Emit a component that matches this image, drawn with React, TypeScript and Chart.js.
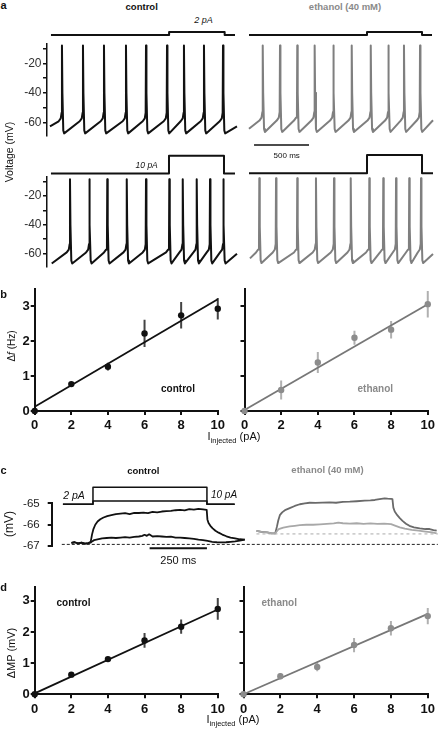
import React, { useEffect, useRef } from "react";
import { Chart, registerables } from "chart.js";
Chart.register(...registerables);

const FONT = "'Liberation Sans', Arial, Helvetica, sans-serif";
Chart.defaults.font.family = FONT;

// ================= DATA =================
// Panel a: spike times (ms from trace origin)
const spikesCtrl2pA = [136, 327, 518, 718, 900, 1091, 1245, 1427, 1600];
const spikesEth2pA = [143, 300, 457, 615, 785, 952, 1125, 1285, 1427, 1573];
const spikesCtrl10pA = [209, 385, 548, 725, 900, 1112, 1234, 1361, 1482, 1603];
const spikesEth10pA = [112, 264, 457, 627, 791, 943, 1112, 1239, 1355, 1475, 1582];
// trace shape: [tStart, vStart, tEnd, vEnd, peak, AHP, threshold] (ms, mV)
const shapeCtrl2pA = [27, -62.7, 1727, -62.7, -8, -67.5, -56.5];
const shapeEth2pA = [18, -64.3, 1691, -58.6, -8, -66.5, -56];
const shapeCtrl10pA = [43, -67, 1727, -60.2, -8.2, -67, -56.5];
const shapeEth10pA = [27, -61.8, 1691, -58.8, -7.5, -65, -55];
// Command steps (ms, pA)
const cmdCtrl2pATimes = [36, 1110, 1110, 1615, 1615, 1709];
const cmdEth2pATimes = [18, 1091, 1091, 1591, 1591, 1682];
const cmdCtrl10pATimes = [36, 1109, 1109, 1609, 1609, 1709];
const cmdEth10pATimes = [18, 1091, 1091, 1591, 1591, 1691];
const cmd2pAValues = [0, 0, 2, 2, 0, 0];
const cmd10pAValues = [0, 0, 10, 10, 0, 0];
const aVoltTicks = [-60, -50, -40, -30, -20, -10];
const aVoltLabelled = [-20, -40, -60];
const aScaleBarMs = [64, 564];

// Panel b / d
const currents = [0, 2, 4, 6, 8, 10];
const dfControl = [0, 0.77, 1.27, 2.22, 2.74, 2.93];
const dfControlErr = [0, 0.05, 0.11, 0.39, 0.38, 0.31];
const dfEthanol = [0, 0.6, 1.39, 2.1, 2.33, 3.06];
const dfEthanolErr = [0, 0.27, 0.3, 0.2, 0.25, 0.38];
const dfControlFit = [0.12, 3.2];
const dfEthanolFit = [0.03, 3.06];
const mpControl = [0, 0.63, 1.13, 1.73, 2.17, 2.74];
const mpControlErr = [0, 0.04, 0.07, 0.24, 0.23, 0.35];
const mpEthanol = [0, 0.58, 0.88, 1.58, 2.12, 2.51];
const mpEthanolErr = [0, 0.1, 0.14, 0.23, 0.23, 0.26];
const mpControlFit = [0.03, 2.72];
const mpEthanolFit = [0.0, 2.58];
const doseYTicks = [0, 1, 2, 3];
const doseXTicks = [0, 2, 4, 6, 8, 10];

// Panel c: membrane potential traces (ms, mV)
const cCtrlUpT = [86, 100, 115, 130, 145, 160, 170, 176, 182, 190, 200, 212, 226, 242, 260, 280, 300, 320, 340, 360, 380, 400, 420, 440, 460, 480, 500, 520, 540, 560, 580, 600, 620, 640, 660, 676, 679, 684, 692, 702, 714, 728, 744, 762, 780, 800, 820, 842];
const cCtrlUpV = [-66.85, -66.82, -66.87, -66.84, -66.88, -66.86, -66.8, -66.45, -66.2, -66.0, -65.85, -65.74, -65.66, -65.6, -65.55, -65.5, -65.48, -65.46, -65.5, -65.44, -65.45, -65.43, -65.46, -65.4, -65.42, -65.38, -65.36, -65.35, -65.32, -65.3, -65.33, -65.27, -65.29, -65.26, -65.28, -65.3, -65.75, -65.92, -66.05, -66.17, -66.28, -66.37, -66.46, -66.54, -66.6, -66.64, -66.68, -66.7];
const cCtrlLoT = [86, 100, 115, 130, 145, 160, 170, 176, 185, 200, 220, 240, 260, 280, 300, 320, 340, 360, 380, 395, 405, 415, 425, 440, 460, 480, 500, 520, 540, 560, 580, 600, 620, 640, 660, 680, 700, 720, 740, 760, 780, 800, 820, 842];
const cCtrlLoV = [-66.85, -66.82, -66.87, -66.84, -66.88, -66.86, -66.84, -66.78, -66.72, -66.68, -66.64, -66.62, -66.6, -66.62, -66.6, -66.58, -66.6, -66.57, -66.55, -66.52, -66.47, -66.52, -66.45, -66.55, -66.53, -66.55, -66.57, -66.56, -66.6, -66.6, -66.62, -66.64, -66.66, -66.7, -66.72, -66.76, -66.8, -66.82, -66.83, -66.82, -66.8, -66.78, -66.74, -66.7];
const cEthUpT = [893, 915, 940, 960, 975, 982, 988, 995, 1005, 1020, 1038, 1060, 1082, 1104, 1125, 1150, 1180, 1212, 1240, 1270, 1300, 1330, 1365, 1390, 1409, 1430, 1452, 1465, 1480, 1486, 1490, 1496, 1507, 1518, 1530, 1545, 1560, 1580, 1605, 1630, 1648, 1665, 1679];
const cEthUpV = [-66.29, -66.33, -66.36, -66.4, -66.4, -66.1, -65.8, -65.55, -65.42, -65.3, -65.22, -65.12, -65.04, -65.0, -64.97, -64.98, -64.96, -64.95, -64.97, -64.93, -64.92, -64.9, -64.87, -64.86, -64.84, -64.8, -64.76, -64.78, -64.79, -64.8, -65.2, -65.38, -65.55, -65.69, -65.82, -65.95, -66.05, -66.12, -66.17, -66.2, -66.2, -66.25, -66.28];
const cEthLoT = [893, 915, 940, 960, 975, 990, 1010, 1038, 1060, 1082, 1110, 1140, 1170, 1200, 1230, 1250, 1270, 1300, 1330, 1360, 1390, 1420, 1450, 1480, 1500, 1518, 1540, 1570, 1600, 1630, 1660, 1679];
const cEthLoV = [-66.29, -66.33, -66.36, -66.4, -66.4, -66.2, -66.13, -66.08, -66.05, -66.02, -66.0, -66.0, -65.98, -65.96, -65.94, -65.9, -65.93, -65.95, -65.93, -65.96, -65.94, -65.96, -65.95, -65.97, -66.05, -66.12, -66.18, -66.24, -66.28, -66.32, -66.36, -66.4];
const cCmdTimes = [49, 180, 180, 677, 677, 798];
const cBaselineCtrl = [44, 1684, -66.92];
const cBaselineEth = [893, 1684, -66.43];
const cScaleBarMs = [427, 677];
const cVoltTicks = [-67, -66, -65];

// ================= LAYOUT =================
const PX_PER_MS_A = 0.11;
const PX_PER_MS_C = 0.2293;

type Box = { x: number; y: number; w: number; h: number };
type Area = { l: number; r: number; t: number; b: number };

function pts(xs: number[], ys: number[]) {
  return xs.map((x, i) => ({ x, y: ys[i] }));
}

function spikeTrace(spikes: number[], s: number[]) {
  const [t0, v0, t1, v1, peak, ahp, thr] = s;
  const out: { x: number; y: number }[] = [{ x: t0, y: v0 }];
  for (const t of spikes) {
    out.push(
      { x: t - 30, y: thr - 2.8 },
      { x: t - 11, y: thr - 0.8 },
      { x: t - 3, y: thr + 3 },
      { x: t, y: peak },
      { x: t + 4, y: -40 },
      { x: t + 12, y: ahp + 2 },
      { x: t + 20, y: ahp }
    );
  }
  out.push({ x: t1, y: v1 });
  return out;
}

function errorBars(xs: number[], ys: number[], es: number[]) {
  const out: { x: number; y: number | null }[] = [];
  xs.forEach((x, i) => {
    if (es[i] > 0) {
      out.push({ x, y: ys[i] - es[i] }, { x, y: ys[i] + es[i] }, { x, y: null });
    }
  });
  return out;
}

function cmdRange(area: Area, zeroPx: number, pxPerPA: number) {
  const h = area.b - area.t;
  const min = -(area.b - zeroPx) / pxPerPA;
  return { min, max: min + h / pxPerPA };
}

function baseOptions(box: Box, area: Area, yW: number, xH: number, scales: any) {
  return {
    responsive: false,
    animation: false,
    events: [],
    layout: {
      autoPadding: false,
      padding: {
        left: area.l - box.x - yW,
        right: box.x + box.w - area.r,
        top: area.t - box.y,
        bottom: box.y + box.h - area.b - xH,
      },
    },
    plugins: { legend: { display: false }, tooltip: { enabled: false }, title: { display: false } },
    elements: { line: { tension: 0, borderJoinStyle: "round" }, point: { radius: 0 } },
    scales,
  };
}

function yAxis(o: {
  min: number; max: number; ticks: number[]; labels?: (v: number) => string;
  width: number; size: number; bold?: boolean; tickLen: number; pad: number; lw: number; color?: string;
}) {
  return {
    type: "linear",
    position: "left",
    min: o.min,
    max: o.max,
    afterBuildTicks: (s: any) => { s.ticks = o.ticks.map((v) => ({ value: v })); },
    afterFit: (s: any) => { s.width = o.width; },
    grid: { drawOnChartArea: false, drawTicks: true, tickLength: o.tickLen, color: "#111", lineWidth: o.lw },
    border: { display: true, color: "#111", width: o.lw },
    ticks: {
      callback: (v: any) => (o.labels ? o.labels(Number(v)) : ""),
      padding: o.pad,
      color: o.color || "#222",
      font: { size: o.size, weight: o.bold ? "bold" : "normal" },
    },
  };
}

function xAxisDose(height: number) {
  return {
    type: "linear",
    position: "bottom",
    min: 0,
    max: 10,
    afterBuildTicks: (s: any) => { s.ticks = doseXTicks.map((v) => ({ value: v })); },
    afterFit: (s: any) => { s.height = height; },
    grid: { drawOnChartArea: false, drawTicks: true, tickLength: 4, color: "#111", lineWidth: 2 },
    border: { display: true, color: "#111", width: 2 },
    ticks: { padding: 3, autoSkip: false, maxRotation: 0, color: "#111", font: { size: 13, weight: "bold" } },
  };
}

type Spec = { key: string; box: Box; build: () => any };

function traceSpec(key: string, box: Box, area: Area, showY: boolean, spikes: number[], shape: number[],
  cmdT: number[], cmdV: number[], cmdZeroPx: number, pxPerPA: number, color: string, extra: any[] = []): Spec {
  return {
    key, box,
    build: () => {
      const yW = showY ? area.l - box.x : 0;
      const scales: any = {
        x: { type: "linear", display: false, min: 0, max: (area.r - area.l) / PX_PER_MS_A },
        y: showY
          ? yAxis({ min: -69, max: -6.5, ticks: aVoltTicks, labels: (v) => (aVoltLabelled.includes(v) ? String(v) : ""), width: yW, size: 12, tickLen: 4, pad: 1.5, lw: 1.5, color: "#333" })
          : { type: "linear", display: false, min: -69, max: -6.5 },
        yc: { type: "linear", display: false, ...cmdRange(area, cmdZeroPx, pxPerPA) },
      };
      return {
        type: "line",
        data: {
          datasets: [
            { data: spikeTrace(spikes, shape), borderColor: color, borderWidth: 2, pointRadius: 0, clip: false, yAxisID: "y" },
            { data: pts(cmdT, cmdV), borderColor: "#111", borderWidth: 2, pointRadius: 0, clip: false, yAxisID: "yc" },
            ...extra,
          ],
        },
        options: baseOptions(box, area, yW, 0, scales),
      };
    },
  };
}

function doseSpec(key: string, box: Box, area: Area, xH: number, yLabels: boolean, ymax: number,
  mean: number[], err: number[], fit: number[], markColor: string, lineColor: string, errColor: string): Spec {
  return {
    key, box,
    build: () => {
      const yW = area.l - box.x;
      const scales: any = {
        x: xAxisDose(xH),
        y: yAxis({ min: 0, max: ymax, ticks: doseYTicks, labels: yLabels ? (v) => String(v) : undefined, width: yW, size: 13, bold: true, tickLen: 4, pad: 1, lw: 2, color: "#111" }),
      };
      return {
        type: "line",
        data: {
          datasets: [
            { data: pts(currents, mean), showLine: false, pointRadius: 3.2, pointBackgroundColor: markColor, pointBorderWidth: 0, clip: false, order: 0 },
            { data: [{ x: 0, y: fit[0] }, { x: 10, y: fit[1] }], borderColor: lineColor, borderWidth: 1.8, pointRadius: 0, clip: false, order: 1 },
            { data: errorBars(currents, mean, err), borderColor: errColor, borderWidth: 2, pointRadius: 0, clip: false, order: 2 },
          ],
        },
        options: baseOptions(box, area, yW, xH, scales),
      };
    },
  };
}

const areaTL: Area = { l: 47, r: 240, t: 43.4, b: 135.6 };
const areaTR: Area = { l: 247, r: 438, t: 43.4, b: 135.6 };
const areaBL: Area = { l: 47, r: 240, t: 176.8, b: 269.0 };
const areaBR: Area = { l: 247, r: 438, t: 176.8, b: 269.0 };

const GRAY_TRACE = "#7f7f7f";

const specs: Spec[] = [
  traceSpec("aTL", { x: 0, y: 25, w: 242, h: 125 }, areaTL, true, spikesCtrl2pA, shapeCtrl2pA, cmdCtrl2pATimes, cmd2pAValues, 35, 1.5, "#111"),
  traceSpec("aTR", { x: 242, y: 25, w: 196, h: 125 }, areaTR, false, spikesEth2pA, shapeEth2pA, cmdEth2pATimes, cmd2pAValues, 35, 1.5, GRAY_TRACE, [
    { data: [{ x: aScaleBarMs[0], y: -75.4 }, { x: aScaleBarMs[1], y: -75.4 }], borderColor: "#111", borderWidth: 1.5, pointRadius: 0, clip: false, yAxisID: "y" },
  ]),
  traceSpec("aBL", { x: 0, y: 150, w: 242, h: 125 }, areaBL, true, spikesCtrl10pA, shapeCtrl10pA, cmdCtrl10pATimes, cmd10pAValues, 173.3, 1.83, "#111"),
  traceSpec("aBR", { x: 242, y: 150, w: 196, h: 125 }, areaBR, false, spikesEth10pA, shapeEth10pA, cmdEth10pATimes, cmd10pAValues, 173.3, 1.83, GRAY_TRACE),
  doseSpec("bL", { x: 0, y: 280, w: 228, h: 155 }, { l: 34.7, r: 218.7, t: 288.15, b: 411 }, 24, true, 3.5, dfControl, dfControlErr, dfControlFit, "#111", "#111", "#444"),
  doseSpec("bR", { x: 228, y: 280, w: 210, h: 155 }, { l: 244.5, r: 429.3, t: 288.15, b: 411 }, 24, false, 3.5, dfEthanol, dfEthanolErr, dfEthanolFit, "#8c8c8c", "#777", "#b0b0b0"),
  doseSpec("dL", { x: 0, y: 578, w: 228, h: 140 }, { l: 34.7, r: 220, t: 582.8, b: 694.3 }, 23.7, true, 3.45, mpControl, mpControlErr, mpControlFit, "#111", "#111", "#444"),
  doseSpec("dR", { x: 228, y: 578, w: 210, h: 140 }, { l: 243.5, r: 428.3, t: 582.8, b: 694.3 }, 23.7, false, 3.45, mpEthanol, mpEthanolErr, mpEthanolFit, "#8c8c8c", "#777", "#b0b0b0"),
  {
    key: "c",
    box: { x: 0, y: 455, w: 438, h: 120 },
    build: () => {
      const box = { x: 0, y: 455, w: 438, h: 120 };
      const area = { l: 51.7, r: 438, t: 503.4, b: 546.1 };
      const yW = area.l - box.x;
      const scales: any = {
        x: { type: "linear", display: false, min: 0, max: (area.r - area.l) / PX_PER_MS_C },
        y: yAxis({ min: -67, max: -65, ticks: cVoltTicks, labels: (v) => String(v), width: yW, size: 11.5, tickLen: 4, pad: 8, lw: 2, color: "#222" }),
        yc: { type: "linear", display: false, ...cmdRange(area, 504.3, 1.7) },
      };
      const ds = (data: any, color: string, width: number, extra: any = {}) => ({ data, borderColor: color, borderWidth: width, pointRadius: 0, clip: false, ...extra });
      return {
        type: "line",
        data: {
          datasets: [
            ds(pts(cCmdTimes, cmd2pAValues), "#111", 1.5, { yAxisID: "yc" }),
            ds(pts(cCmdTimes, cmd10pAValues), "#111", 1.5, { yAxisID: "yc" }),
            ds([{ x: cBaselineCtrl[0], y: cBaselineCtrl[2] }, { x: cBaselineCtrl[1], y: cBaselineCtrl[2] }], "#222", 1, { borderDash: [3, 2] }),
            ds([{ x: cBaselineEth[0], y: cBaselineEth[2] }, { x: cBaselineEth[1], y: cBaselineEth[2] }], "#aaa", 1, { borderDash: [3, 3] }),
            ds(pts(cCtrlLoT, cCtrlLoV), "#111", 1.8),
            ds(pts(cCtrlUpT, cCtrlUpV), "#111", 1.8),
            ds(pts(cEthLoT, cEthLoV), "#a8a8a8", 1.8),
            ds(pts(cEthUpT, cEthUpV), "#6a6a6a", 1.8),
            ds([{ x: cScaleBarMs[0], y: -67.1 }, { x: cScaleBarMs[1], y: -67.1 }], "#111", 2),
          ],
        },
        options: baseOptions(box, area, yW, 0, scales),
      };
    },
  },
];

function ChartBox({ spec }: { spec: Spec }) {
  const ref = useRef<HTMLCanvasElement>(null);
  useEffect(() => {
    const chart = new Chart(ref.current as HTMLCanvasElement, spec.build());
    return () => chart.destroy();
  }, [spec]);
  const { x, y, w, h } = spec.box;
  return <canvas ref={ref} width={w} height={h} style={{ position: "absolute", left: x, top: y, width: w, height: h }} />;
}

function Label(p: { x: number; y: number; size: number; bold?: boolean; italic?: boolean; color?: string; rotate?: boolean; children: React.ReactNode }) {
  return (
    <div
      style={{
        position: "absolute", left: p.x, top: p.y,
        transform: `translate(-50%,-50%)${p.rotate ? " rotate(-90deg)" : ""}`,
        fontFamily: FONT, fontSize: p.size, fontWeight: p.bold ? "bold" : "normal",
        fontStyle: p.italic ? "italic" : "normal", color: p.color || "#111",
        whiteSpace: "nowrap", lineHeight: 1,
      }}
    >
      {p.children}
    </div>
  );
}

const ETH_TEXT = "#8a8a8a";

function IInjected({ x, y }: { x: number; y: number }) {
  return (
    <Label x={x} y={y} size={11}>
      I<span style={{ fontSize: 7.5, position: "relative", top: 3 }}>injected</span> (pA)
    </Label>
  );
}

export default function App() {
  return (
    <div style={{ position: "absolute", left: 0, top: 0, width: 438, height: 733, background: "#fff", overflow: "hidden" }}>
      {specs.map((s) => <ChartBox key={s.key} spec={s} />)}
      <Label x={3.5} y={4.5} size={11} bold>a</Label>
      <Label x={141.7} y={6.5} size={9.5} bold>control</Label>
      <Label x={345} y={6.7} size={9.5} bold color={ETH_TEXT}>ethanol (40 mM)</Label>
      <Label x={203.5} y={20} size={9} italic>2 pA</Label>
      <Label x={146.7} y={165} size={8.5} italic>10 pA</Label>
      <Label x={286.7} y={156} size={8}>500 ms</Label>
      <Label x={9} y={152} size={10.5} rotate>Voltage (mV)</Label>

      <Label x={3.5} y={293.5} size={11} bold>b</Label>
      <Label x={11.7} y={346} size={10} rotate>Δ<i>f</i> (Hz)</Label>
      <Label x={178} y={388.5} size={10} bold>control</Label>
      <Label x={375.3} y={388.5} size={10} bold color={ETH_TEXT}>ethanol</Label>
      <IInjected x={234} y={436} />

      <Label x={3.5} y={470} size={11} bold>c</Label>
      <Label x={143.3} y={471} size={9.5} bold>control</Label>
      <Label x={327.5} y={470} size={9.5} bold color={ETH_TEXT}>ethanol (40 mM)</Label>
      <Label x={9} y={524} size={12} rotate>(mV)</Label>
      <Label x={74} y={495} size={10.5} italic>2 pA</Label>
      <Label x={224} y={495} size={10} italic>10 pA</Label>
      <Label x={178.3} y={560} size={11}>250 ms</Label>

      <Label x={3.5} y={586.5} size={11} bold>d</Label>
      <Label x={11} y={652.5} size={11} rotate>ΔMP (mV)</Label>
      <Label x={73.5} y={602.5} size={10} bold>control</Label>
      <Label x={279.2} y={602.5} size={10} bold color={ETH_TEXT}>ethanol</Label>
      <IInjected x={233} y={719} />
    </div>
  );
}
